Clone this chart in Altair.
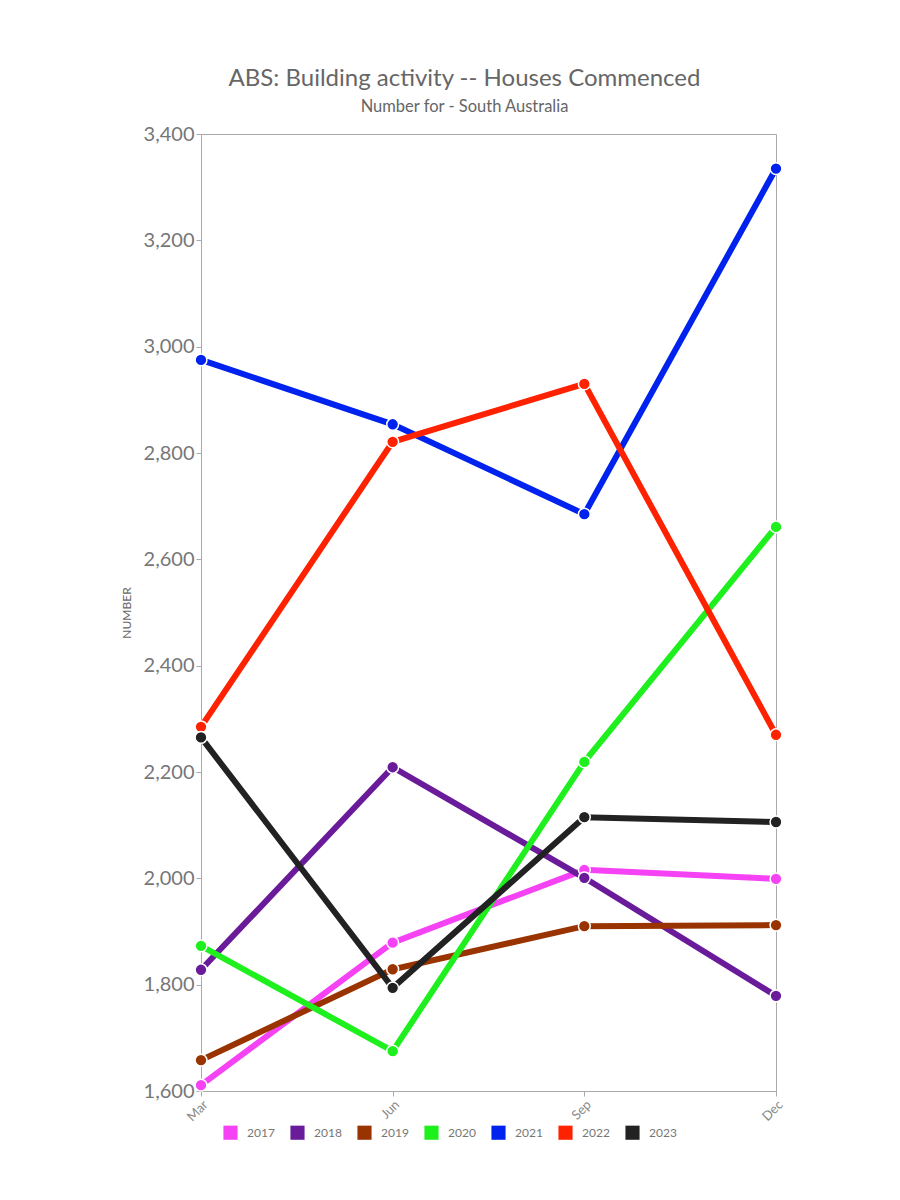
import altair as alt
import pandas as pd

months = ["Mar", "Jun", "Sep", "Dec"]
years = ["2017", "2018", "2019", "2020", "2021", "2022", "2023"]
v2017 = [1611, 1879, 2016, 1999]
v2018 = [1828, 2209, 2001, 1779]
v2019 = [1658, 1829, 1910, 1912]
v2020 = [1873, 1675, 2219, 2661]
v2021 = [2975, 2854, 2685, 3335]
v2022 = [2285, 2821, 2930, 2270]
v2023 = [2265, 1794, 2115, 2106]
colors = ["#f542f5", "#6a1b9a", "#993300", "#1ef01e", "#0022ee", "#ff2200", "#222222"]

series = [v2017, v2018, v2019, v2020, v2021, v2022, v2023]
rows = []
for yr, vals in zip(years, series):
    for m, v in zip(months, vals):
        rows.append({"month": m, "year": yr, "value": v})
df = pd.DataFrame(rows)

FONT = "Lato"

x = alt.X("month:N", sort=months, scale=alt.Scale(type="point", padding=0),
          axis=alt.Axis(title=None, labelAngle=-45, labelAlign="right", labelBaseline="top",
                        labelFontSize=13, labelColor="#888", labelFont=FONT,
                        domainColor="#aaa", tickColor="#aaa", tickSize=5, grid=False))
y = alt.Y("value:Q", scale=alt.Scale(domain=[1600, 3400], nice=False, zero=False),
          axis=alt.Axis(title="NUMBER", values=list(range(1600, 3401, 200)), format=",.0f",
                        labelFontSize=20, labelColor="#777", labelFont=FONT,
                        titleFontSize=12, titleColor="#666", titleFont=FONT,
                        titleFontWeight="normal", titlePadding=10,
                        domainColor="#aaa", tickColor="#aaa", tickSize=5, grid=False))
color = alt.Color("year:N", scale=alt.Scale(domain=years, range=colors),
                  legend=alt.Legend(title=None, orient="none", direction="horizontal",
                                    legendX=22, legendY=991, symbolType="square",
                                    symbolSize=200, symbolStrokeWidth=0, symbolOpacity=1,
                                    labelFontSize=12, labelColor="#777", labelFont=FONT,
                                    columnPadding=15, labelOffset=9, padding=0))

base = alt.Chart(df)
lines = base.mark_line(strokeWidth=6).encode(x=x, y=y, color=color)
points = base.mark_circle(size=140, opacity=1, stroke="white", strokeWidth=1.5).encode(
    x=x, y=y, color=alt.Color("year:N", scale=alt.Scale(domain=years, range=colors), legend=None))

chart = alt.layer(lines, points).properties(
    width=575, height=957,
    title=alt.TitleParams(text="ABS: Building activity -- Houses Commenced",
                          subtitle="Number for - South Australia",
                          font=FONT, fontSize=24, fontWeight="normal", color="#666",
                          subtitleFont=FONT, subtitleFontSize=16.5, subtitleColor="#666",
                          anchor="middle", frame="group", dx=-24, offset=9, subtitlePadding=8),
    autosize=alt.AutoSizeParams(type="none"),
    padding={"left": 193, "top": 126, "right": 100, "bottom": 90},
).configure_view(stroke="#aaa", strokeWidth=1)

chart.save("out.html", embed_options={"renderer": "svg", "actions": False})
